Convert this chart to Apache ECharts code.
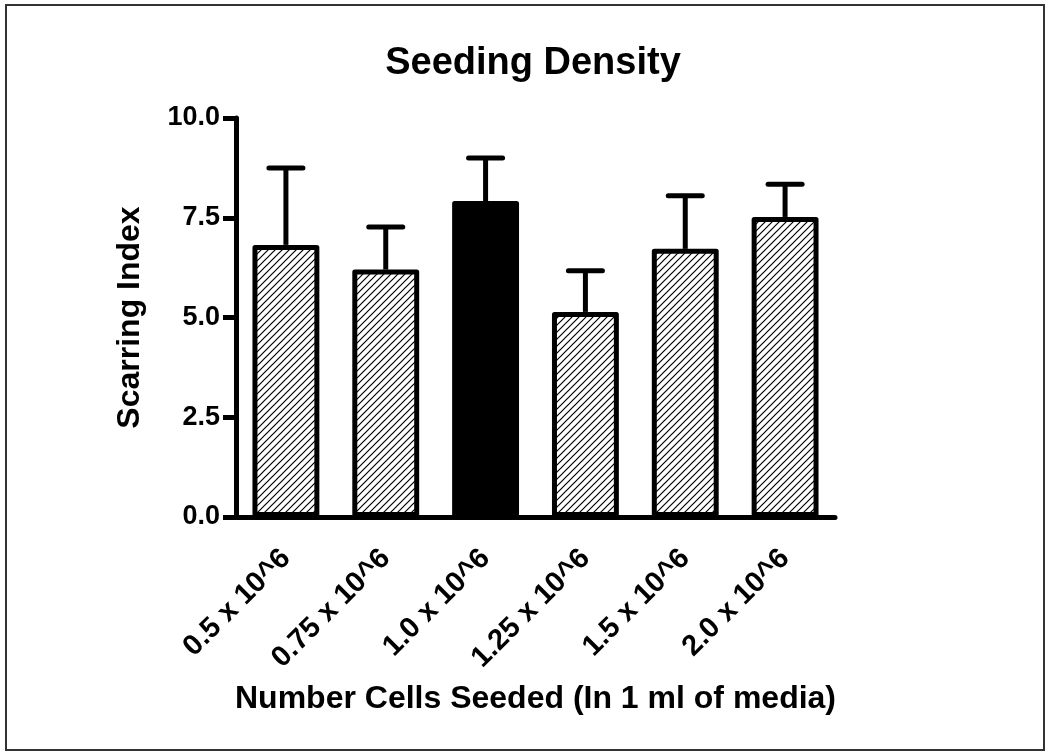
<!DOCTYPE html>
<html>
<head>
<meta charset="utf-8">
<script src="https://cdn.jsdelivr.net/npm/echarts@6/dist/echarts.min.js"></script>
<style>
html,body{margin:0;padding:0;background:#fff;}
#c{width:1050px;height:753px;}
</style>
</head>
<body>
<div id="c"></div>
<script>
const categories = ['0.5 x 10^6', '0.75 x 10^6', '1.0 x 10^6', '1.25 x 10^6', '1.5 x 10^6', '2.0 x 10^6'];
const means = [6.82, 6.20, 7.92, 5.14, 6.72, 7.52];
const errUpper = [1.93, 1.07, 1.08, 1.03, 1.33, 0.82];
const solidIndex = [2];
const yTicks = [0, 2.5, 5, 7.5, 10];

const FONT = "'Liberation Sans', Arial, sans-serif";

// hatch pattern
const pc = document.createElement('canvas');
pc.width = 7; pc.height = 7;
const pctx = pc.getContext('2d');
pctx.fillStyle = '#fff';
pctx.fillRect(0, 0, 7, 7);
pctx.strokeStyle = '#000';
pctx.lineWidth = 1.2;
pctx.beginPath();
pctx.moveTo(-1, 8); pctx.lineTo(8, -1);
pctx.moveTo(-1, 1); pctx.lineTo(1, -1);
pctx.moveTo(6, 8); pctx.lineTo(8, 6);
pctx.stroke();
const hatch = { image: pc, repeat: 'repeat' };

const chart = echarts.init(document.getElementById('c'), null, { renderer: 'canvas' });

const barData = means.map((v, i) => ({
  value: v,
  itemStyle: solidIndex.includes(i)
    ? { color: '#000', borderColor: '#000', borderWidth: 5 }
    : { color: hatch, borderColor: '#000', borderWidth: 5 }
}));

const errData = means.map((v, i) => [i, v, v + errUpper[i]]);

chart.setOption({
  animation: false,
  backgroundColor: '#fff',
  title: {
    text: 'Seeding Density',
    left: 528, top: 40, textAlign: 'center',
    textStyle: { fontFamily: FONT, fontWeight: 'bold', fontSize: 38, color: '#000' }
  },
  grid: { left: 236, right: 215, top: 118, bottom: 236, containLabel: false },
  xAxis: {
    type: 'category',
    data: categories,
    name: 'Number Cells Seeded (In 1 ml of media)',
    nameLocation: 'middle',
    nameGap: 166,
    nameTextStyle: { fontFamily: FONT, fontWeight: 'bold', fontSize: 32, color: '#000' },
    axisLine: { lineStyle: { color: '#000', width: 5 } },
    axisTick: { alignWithLabel: true, length: 14, lineStyle: { color: '#000', width: 5 } },
    axisLabel: { rotate: 45, margin: 37, fontFamily: FONT, fontWeight: 'bold', fontSize: 29, color: '#000', interval: 0 },
    splitLine: { show: false }
  },
  yAxis: {
    type: 'value',
    min: 0, max: 10, interval: 2.5,
    name: 'Scarring Index',
    nameLocation: 'middle',
    nameGap: 90,
    nameTextStyle: { fontFamily: FONT, fontWeight: 'bold', fontSize: 32, color: '#000' },
    axisLine: { show: true, lineStyle: { color: '#000', width: 5 } },
    axisTick: { show: true, length: 13, lineStyle: { color: '#000', width: 5 } },
    axisLabel: {
      margin: 16, fontFamily: FONT, fontWeight: 'bold', fontSize: 27, color: '#000',
      formatter: v => yTicks.includes(v) ? v.toFixed(1) : ''
    },
    splitLine: { show: false }
  },
  series: [
    {
      type: 'custom',
      z: 1,
      data: errData,
      renderItem: function (params, api) {
        const x = api.value(0);
        const lo = api.coord([x, api.value(1)]);
        const hi = api.coord([x, api.value(2)]);
        const hw = 17;
        return {
          type: 'group',
          children: [
            { type: 'line', shape: { x1: lo[0], y1: lo[1], x2: hi[0], y2: hi[1] }, style: { stroke: '#000', lineWidth: 5 } },
            { type: 'line', shape: { x1: hi[0] - hw, y1: hi[1], x2: hi[0] + hw, y2: hi[1] }, style: { stroke: '#000', lineWidth: 5, lineCap: 'round' } }
          ]
        };
      }
    },
    {
      type: 'bar',
      z: 2,
      data: barData,
      barWidth: '67%',
      itemStyle: { borderJoin: 'round' }
    }
  ],
  graphic: [
    {
      type: 'rect',
      shape: { x: 6, y: 5, width: 1038, height: 745 },
      style: { fill: 'none', stroke: '#333', lineWidth: 2 },
      silent: true
    }
  ]
});
</script>
</body>
</html>
